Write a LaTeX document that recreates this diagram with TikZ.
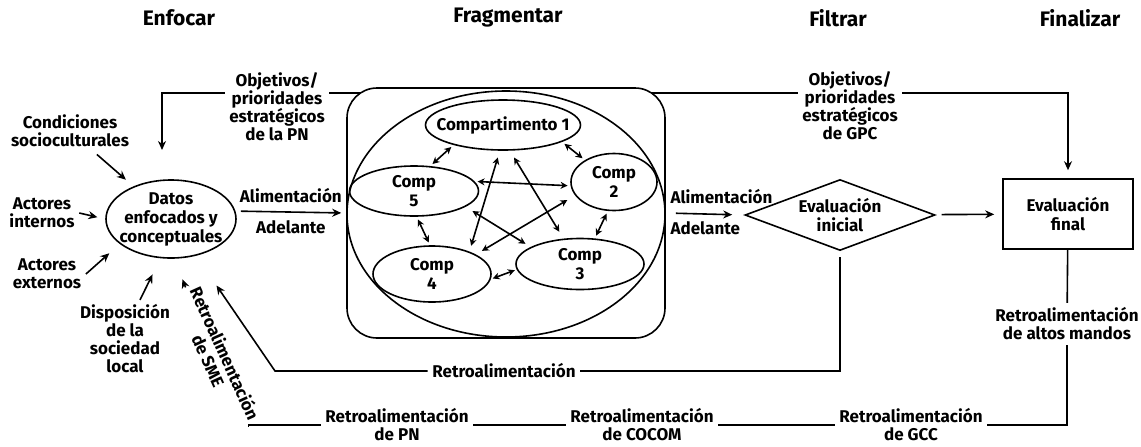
\documentclass[tikz,border=0pt]{standalone}
\usepackage{fontspec}
\setmainfont{Fira Sans}
\usetikzlibrary{arrows.meta,positioning,shapes.geometric}
\tikzset{
    %Define standard arrow tip
    >={Stealth[length=4.5pt,width=4pt]},
    %Define style for phase titles
    phase/.style={
           font=\bfseries\fontsize{10.5}{12}\selectfont},
    %Define style for labels
    lbl/.style={
           align=center,
           inner sep=2pt,
           font=\bfseries\fontsize{8.5}{9}\selectfont},
    inlbl/.style={
           align=center,
           inner sep=0pt,
           font=\bfseries\fontsize{8.5}{9.5}\selectfont},
    %Define style for boxes
    compell/.style={
           ellipse,
           draw=black, thick,
           inner sep=0pt},
    fragbox/.style={
           rectangle,
           rounded corners=15pt,
           draw=black, thick,
           minimum width=159pt,
           minimum height=125pt},
    diam/.style={
           diamond,
           aspect=2.7,
           draw=black, thick,
           minimum width=95pt,
           minimum height=35.5pt,
           inner sep=0pt,
           align=center,
           font=\bfseries\fontsize{8.5}{9.5}\selectfont},
    finalbox/.style={
           rectangle,
           draw=black, thick,
           minimum width=65pt,
           minimum height=35pt,
           align=center,
           font=\bfseries\fontsize{8.5}{9.5}\selectfont},
    % Define arrow style
    pil/.style={
           ->,
           thick},
    dbl/.style={
           {Stealth[length=3.5pt,width=3.5pt]}-{Stealth[length=3.5pt,width=3.5pt]},
           thick,
           shorten <=1.5pt,
           shorten >=1.5pt}
}

\begin{document}
\begin{tikzpicture}[x=0.5pt,y=-0.5pt,thick]
\useasboundingbox (0,0) rectangle (1141,446);
% phases
\node[phase] (enfocar) at (179,18) {Enfocar};
\node[phase] (fragmentar) at (508,18) {Fragmentar};
\node[phase] (filtrar) at (838,18) {Filtrar};
\node[phase] (finalizar) at (1080,18) {Finalizar};

% enfocar
\node[compell, minimum width=65pt, minimum height=39pt,
      label={[inlbl]center:{Datos\\enfocados y\\conceptuales}}] (datos) at (171,219) {};
\node[lbl] (condic) at (70,131) {Condiciones\\socioculturales};
\node[lbl] (actint) at (42,213) {Actores\\internos};
\node[lbl] (actext) at (47,274) {Actores\\externos};
\node[lbl] (dispo) at (125,339) {Disposición\\de la\\sociedad\\local};
\node[lbl, rotate=-65.7] (sme) at (217,357) {Retroalimentación\\de SME};
\draw[pil, shorten <=2pt, shorten >=5pt] (condic) -- (datos);
\draw[pil, shorten >=4pt] (actint.east) -- (datos.west);
\draw[pil, shorten >=7pt] (actext.east) -- (datos.206);
\draw[pil, shorten >=9pt] (dispo.69) -- (datos.255);
\draw[pil, shorten >=11pt] (sme.west) -- (datos.275);

% fragmentar
\node[fragbox] (frag) at (506,213) {};
\node[compell, minimum width=159pt, minimum height=123pt] (fragell) at (506,214) {};
\node[compell, minimum width=77.5pt, minimum height=25pt,
      label={[inlbl]center:Compartimento 1}] (c1) at (503,125) {};
\node[compell, minimum width=64.5pt, minimum height=25pt,
      label={[inlbl]center:{Comp\\5}}] (c5) at (414,191) {};
\node[compell, minimum width=43pt, minimum height=28.5pt,
      label={[inlbl]center:{Comp\\2}}] (c2) at (614,182) {};
\node[compell, minimum width=59pt, minimum height=28pt,
      label={[inlbl]center:{Comp\\4}}] (c4) at (432,274) {};
\node[compell, minimum width=64pt, minimum height=25.5pt,
      label={[inlbl]center:{Comp\\3}}] (c3) at (580,264) {};
\path[dbl]
    (c1.202) edge (c5.57)
    (c1.344) edge (c2.143)
    (c5.9) edge (c2.185)
    (c5.276) edge (c4.94)
    (c4.355) edge[shorten <=1pt, shorten >=1pt] (c3.185)
    (c2.258) edge (c3.60)
    (c1.263) edge[shorten <=3.5pt, shorten >=3pt] (c4.31)
    (c1.285) edge[shorten <=4pt, shorten >=4pt] (c3.123)
    (c5.343) edge[shorten <=4pt, shorten >=3pt] (c3.161)
    (c4.24) edge[shorten <=3.5pt, shorten >=4.5pt] (c2.199);
\draw[pil, shorten <=2.75pt, shorten >=2.5pt] (datos.7) -- (frag.west)
    node[lbl, midway, above=2pt] {Alimentación}
    node[lbl, midway, below=2pt] {Adelante};

% filtrar
\node[diam] (diam) at (840,215) {Evaluación\\inicial};
\draw[pil, shorten <=5pt, shorten >=6pt] (frag.east) -- (diam.west)
    node[lbl, pos=0, anchor=south west, yshift=2pt] {Alimentación}
    node[lbl, pos=0, anchor=north west, yshift=-2pt] {Adelante};

% finalizar
\node[finalbox] (final) at (1068,214) {Evaluación\\final};
\draw[pil, shorten <=3.5pt, shorten >=4pt] (diam) -- (final);

% objetivos
\coordinate (pnstart) at (360,93);
\coordinate (pnin) at (162,150);
\coordinate (gpcstart) at (651,93);
\draw[pil] (pnstart) -| (pnin);
\draw[pil, shorten >=4pt] (gpcstart) -| (final);
\node[lbl, fill=white] (objpn) at (277,107) {Objetivos/\\prioridades\\estratégicos\\de la PN};
\node[lbl, fill=white] (objgpc) at (850,106) {Objetivos/\\prioridades\\estratégicos\\de GPC};

% retroalimentacion
\node[lbl] (fb) at (504,371) {Retroalimentación};
\coordinate (fbcorner) at (275,371);
\draw[pil, shorten >=18pt] (fb) -- (fbcorner) -- (datos);
\draw[shorten >=3pt] (fb) -| (diam);
\node[lbl] (altos) at (1067,324) {Retroalimentación\\de altos mandos};
\node[lbl] (pn) at (397,425) {Retroalimentación\\de PN};
\node[lbl] (cocom) at (642,425) {Retroalimentación\\de COCOM};
\node[lbl] (gcc) at (911,425) {Retroalimentación\\de GCC};
\draw (final) -- (altos);
\draw (gcc) -| (altos);
\draw (cocom) -- (gcc);
\draw (pn) -- (cocom);
\draw (pn.west) -| (sme.east);
\end{tikzpicture}
\end{document}
